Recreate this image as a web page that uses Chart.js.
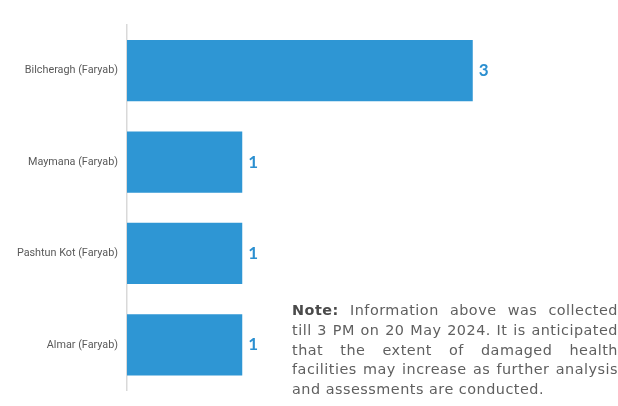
<!DOCTYPE html>
<html>
<head>
<meta charset="utf-8">
<script src="https://cdn.jsdelivr.net/npm/chart.js@4.4.1/dist/chart.umd.min.js"></script>
<style>
  html, body { margin: 0; padding: 0; background: #fff; }
  #wrap { position: relative; width: 618px; height: 406px; }
  #note {
    position: absolute; left: 292px; top: 301px; width: 326px;
    font-family: "DejaVu Sans", sans-serif; font-size: 14.4px; line-height: 19.8px;
    letter-spacing: 0.5px; color: #5f5f5f;
  }
  #note div { text-align: justify; text-align-last: justify; white-space: nowrap; }
  #note div.last { text-align-last: left; }
  #note b { color: #4a4a4a; }
</style>
</head>
<body>
<div id="wrap">
  <canvas id="chart" width="618" height="406"></canvas>
  <div id="note">
    <div><b>Note:</b> Information above was collected</div>
    <div>till 3 PM on 20 May 2024. It is anticipated</div>
    <div>that the extent of damaged health</div>
    <div>facilities may increase as further analysis</div>
    <div class="last">and assessments are conducted.</div>
  </div>
</div>
<script>
// districts and number of damaged health facilities
const districts = ['Bilcheragh (Faryab)', 'Maymana (Faryab)', 'Pashtun Kot (Faryab)', 'Almar (Faryab)'];
const facilities = [3, 1, 1, 1];

const barColor = '#2E96D4';

// value labels at the end of each bar
const valueLabels = {
    id: 'valueLabels',
    afterDatasetsDraw(chart) {
        const ctx = chart.ctx;
        const meta = chart.getDatasetMeta(0);
        ctx.save();
        ctx.font = 'bold 17px Lato, "Open Sans", sans-serif';
        ctx.fillStyle = '#2B8FD0';
        ctx.textAlign = 'left';
        ctx.textBaseline = 'middle';
        meta.data.forEach((bar, i) => {
            ctx.fillText(String(facilities[i]), bar.x + 6, bar.y);
        });
        ctx.restore();
    }
};

new Chart(document.getElementById('chart'), {
    type: 'bar',
    data: {
        labels: districts,
        datasets: [{
            data: facilities,
            backgroundColor: barColor,
            borderWidth: 0,
            categoryPercentage: 0.67,
            barPercentage: 1
        }]
    },
    options: {
        indexAxis: 'y',
        responsive: false,
        animation: false,
        layout: { padding: { top: 25, bottom: 14, right: 30, left: 0 } },
        plugins: {
            legend: { display: false },
            tooltip: { enabled: false }
        },
        scales: {
            x: {
                display: false,
                min: 0,
                max: 4
            },
            y: {
                afterFit(axis) { axis.width = 127; },
                grid: { display: false, drawTicks: false },
                border: { display: true, color: '#D9D9D9', width: 1.5 },
                ticks: {
                    padding: 9,
                    color: '#595959',
                    font: { family: 'Roboto, sans-serif', size: 10.8 }
                }
            }
        }
    },
    plugins: [valueLabels]
});
</script>
</body>
</html>
